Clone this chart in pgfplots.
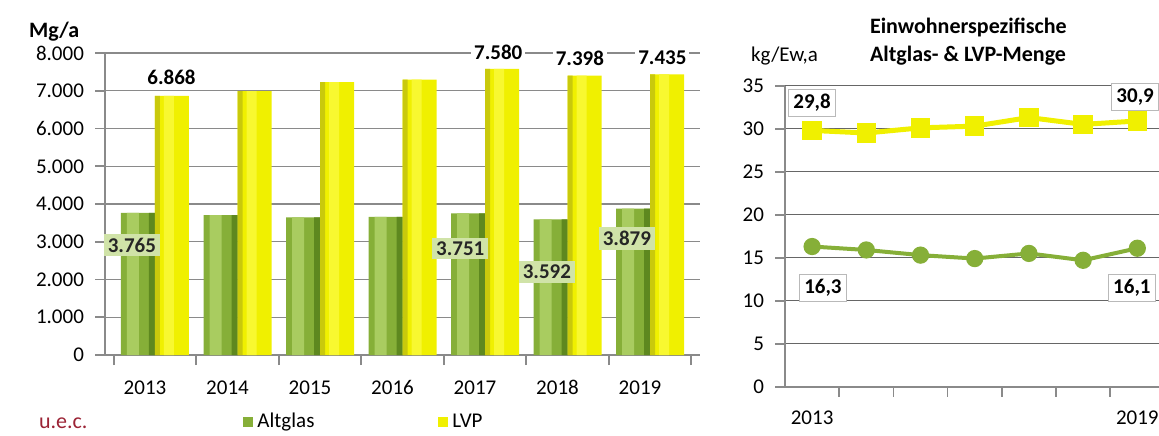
\documentclass[border=0pt]{standalone}
\usepackage{fontspec}
\setmainfont{Carlito}
\usepackage{pgfplots}
\pgfplotsset{compat=1.18}
\usepackage{pgfplotstable}

\definecolor{agreen}{HTML}{86AF38}
\definecolor{agreenlight}{HTML}{A9CC60}
\definecolor{agreendark}{HTML}{5E881F}
\definecolor{lvpyellow}{HTML}{F0F000}
\definecolor{lvplight}{HTML}{F8F830}
\definecolor{lvpdark}{HTML}{C9C90C}
\definecolor{gridgray}{HTML}{8A8A8A}
\definecolor{uecred}{HTML}{9B2335}

% Mengen in Mg/a
\pgfplotstableread{
x alt lvp
0 3765 6868
1 3704 6992
2 3643 7230
3 3659 7294
4 3751 7580
5 3592 7398
6 3879 7435
}\mengen

% label positions for the bar chart
\pgfplotstableread{
x y lab
0.20 7350 6.868
4.16 8016 7.580
5.15 7857 7.398
6.15 7884 7.435
}\lvplab
\pgfplotstableread{
x y lab
-0.28 2910 3.765
3.70 2822 3.751
4.75 2204 3.592
5.72 3087 3.879
}\altlab

% kg/Ew,a
\pgfplotstableread{
x alt lvp
0 16.3 29.8
1 15.9 29.5
2 15.3 30.1
3 14.9 30.3
4 15.5 31.3
5 14.7 30.5
6 16.1 30.9
}\proew
\pgfplotstableread{
x y lab
0.0 33.0 29,8
5.96 33.7 30,9
0.2 11.5 16,3
5.9 11.5 16,1
}\ewlab

\begin{document}
\begin{tikzpicture}[font=\fontsize{10.5}{12.6}\selectfont]

\begin{axis}[
  at={(52.5pt,40pt)}, anchor=south west, scale only axis,
  width=297.5pt, height=151pt,
  xmin=-0.606, xmax=6.606, ymin=0, ymax=8000,
  axis x line=bottom, axis y line=left,
  axis line style={-, draw=gridgray, line width=0.8pt},
  tick align=outside, major tick length=5pt,
  tick style={draw=gridgray, line width=0.8pt},
  ytick={0,1000,...,8000}, ymajorgrids,
  grid style={draw=gridgray, line width=0.7pt},
  scaled y ticks=false,
  yticklabel style={/pgf/number format/1000 sep={.}, /pgf/number format/assume math mode=true, xshift=-2pt},
  xtick={-0.5,0.5,...,6.5}, xticklabels={},
  extra x ticks={0,...,6}, extra x tick labels={2013,2014,2015,2016,2017,2018,2019},
  extra x tick style={major tick length=0pt, xticklabel style={anchor=base, xshift=-5pt, yshift=-19.5pt}},
  clip=false,
  legend style={at={(0.222,-0.222)}, anchor=west, draw=none, fill=none,
    legend columns=2, /tikz/every even column/.append style={column sep=60pt}},
  legend image code/.code={\fill (0pt,-2.5pt) rectangle (5pt,2.5pt);},
]
\addplot[ybar, bar width=17pt, bar shift=-8.5pt, draw=none, fill=agreen]
  table[x=x, y=alt]{\mengen};
\addlegendentry{Altglas}
\addplot[ybar, bar width=17pt, bar shift=8.5pt, draw=none, fill=lvpyellow]
  table[x=x, y=lvp]{\mengen};
\addlegendentry{LVP}
% cylinder shine and shadow
\addplot[forget plot, ybar, bar width=6pt, bar shift=-11pt, draw=none, fill=agreenlight]
  table[x=x, y=alt]{\mengen};
\addplot[forget plot, ybar, bar width=3pt, bar shift=-1.5pt, draw=none, fill=agreendark]
  table[x=x, y=alt]{\mengen};
\addplot[forget plot, ybar, bar width=2.5pt, bar shift=1.25pt, draw=none, fill=lvpdark]
  table[x=x, y=lvp]{\mengen};
\addplot[forget plot, ybar, bar width=5pt, bar shift=7pt, draw=none, fill=lvplight]
  table[x=x, y=lvp]{\mengen};

\addplot[forget plot, only marks, mark=*, mark size=0pt, mark options={draw=none, fill=none},
  nodes near coords, point meta=explicit symbolic,
  nodes near coords style={anchor=center, text=black, fill=white, inner sep=1.5pt, font=\fontsize{10.5}{12.6}\selectfont\bfseries}]
  table[x=x, y=y, meta=lab]{\lvplab};
\addplot[forget plot, only marks, mark=*, mark size=0pt, mark options={draw=none, fill=none},
  nodes near coords, point meta=explicit symbolic,
  nodes near coords style={anchor=center, text=black!85, fill=agreenlight!55, inner sep=2pt, font=\fontsize{10.5}{12.6}\selectfont\bfseries}]
  table[x=x, y=y, meta=lab]{\altlab};
\end{axis}

\begin{axis}[
  at={(392.5pt,24.15pt)}, anchor=south west, scale only axis,
  width=187pt, height=150.5pt,
  xmin=-0.5, xmax=6.4, ymin=0, ymax=35,
  axis x line=bottom, axis y line=left,
  axis line style={-, draw=gridgray, line width=0.8pt},
  tick align=outside, major tick length=5pt,
  tick style={draw=gridgray, line width=0.8pt},
  ytick={0,5,...,35}, ymajorgrids,
  grid style={draw=black!60, line width=0.7pt},
  yticklabel style={/pgf/number format/assume math mode=true, xshift=-2pt},
  xtick={0.5,1.5,...,5.5}, xticklabels={},
  extra x ticks={0,6}, extra x tick labels={2013,2019},
  extra x tick style={major tick length=0pt, xticklabel style={anchor=base, yshift=-18.8pt}},
  clip=false,
]
\addplot[color=agreen, line width=2pt, mark=*, mark size=3.3pt,
  mark options={fill=agreen, draw=agreen}]
  table[x=x, y=alt]{\proew};
\addplot[color=lvpyellow, line width=2.5pt, mark=square*, mark size=3.6pt,
  mark options={fill=lvpyellow, draw=lvpyellow}]
  table[x=x, y=lvp]{\proew};

\addplot[only marks, mark=*, mark size=0pt, mark options={draw=none, fill=none},
  nodes near coords, point meta=explicit symbolic,
  nodes near coords style={anchor=center, text=black, fill=white, draw=gray!55, inner sep=2.5pt, font=\fontsize{10.5}{12.6}\selectfont\bfseries}]
  table[x=x, y=y, meta=lab]{\ewlab};
\end{axis}

\node[anchor=base west, font=\fontsize{11}{13}\selectfont\bfseries] at (11pt,199pt) {Mg/a};
\node[anchor=base west, text=uecred, font=\fontsize{11}{13}\selectfont] at (16pt,3.5pt) {u.e.c.};
\node[anchor=base west] at (372pt,187pt) {kg/Ew,a};
\node[anchor=base west, font=\fontsize{11}{13}\selectfont\bfseries] at (431.5pt,200.5pt) {Einwohnerspezifische};
\node[anchor=base west, font=\fontsize{11}{13}\selectfont\bfseries] at (431.5pt,187pt) {Altglas- \& LVP-Menge};

\pgfresetboundingbox
\path (0,0) rectangle (579.5pt,217.5pt);
\end{tikzpicture}
\end{document}
